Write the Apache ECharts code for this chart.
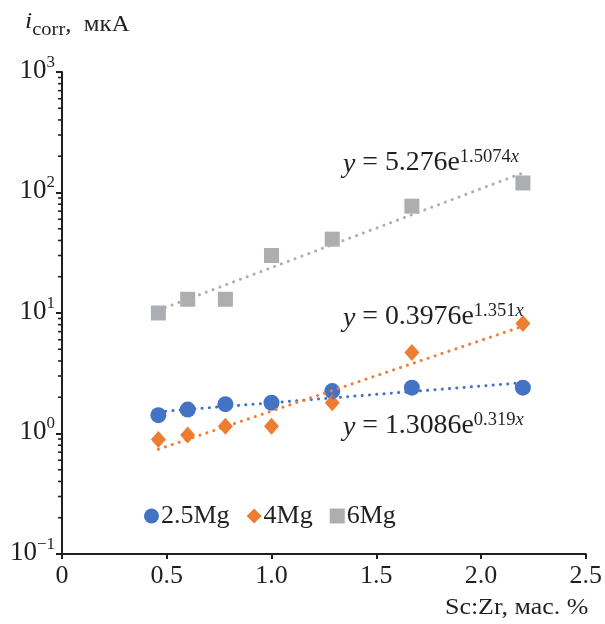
<!DOCTYPE html>
<html>
<head>
<meta charset="utf-8">
<script src="https://cdn.jsdelivr.net/npm/echarts@6/dist/echarts.min.js"></script>
<style>html,body{margin:0;padding:0;background:#fff}#c{width:605px;height:624px}</style>
</head>
<body>
<div id="c"></div>
<script>
// Data
const xValues = [0.46, 0.60, 0.78, 1.00, 1.29, 1.67, 2.20];
const mg25 = [1.42, 1.58, 1.75, 1.80, 2.25, 2.40, 2.40];
const mg4 = [0.89, 0.97, 1.15, 1.15, 1.80, 4.70, 8.20];
const mg6 = [10.0, 13.0, 13.0, 30.0, 41.0, 77.0, 120.0];
// Trendline end points (exponential fits, straight on log axis)
const trendX = [0.46, 2.20];
const trend25 = [1.515, 2.64];
const trend4 = [0.740, 7.77];
const trend6 = [10.55, 145.4];
const seriesNames = ['2.5Mg', '4Mg', '6Mg'];
const xTicks = ['0', '0.5', '1.0', '1.5', '2.0', '2.5'];
const yExponents = ['−1', '0', '1', '2', '3'];
const minorTickValues = [];
[0.1, 1, 10, 100].forEach(d => { for (let m = 2; m <= 9; m++) minorTickValues.push(+(m * d).toPrecision(3)); });

const SERIF = '"Liberation Serif", "DejaVu Serif", serif';
const C_BLUE = '#4472C4', C_ORANGE = '#ED7D31', C_GRAY = '#ADAEB1';
const AX = '#231F20';

function pairs(xs, ys) { return xs.map((x, i) => [x, ys[i]]); }

const chart = echarts.init(document.getElementById('c'), null, {renderer: 'canvas'});

function trend(data, color) {
  return {
    type: 'line', data: data, symbol: 'none', silent: true, z: 5,
    lineStyle: {color: color, width: 3, type: [0.1, 7.2], cap: 'round'}
  };
}

function eq(coef, exp, y) {
  return {
    type: 'text', left: 343, top: y, z: 100, scaleX: 1.03,
    style: {
      text: '{i|y} = ' + coef + 'e{s|' + exp + '}{si|x}',
      font: '27px ' + SERIF, fill: '#231F20',
      rich: {
        i: {fontSize: 27, fontStyle: 'italic', fontFamily: SERIF, lineHeight: 30, verticalAlign: 'bottom'},
        s: {fontSize: 18, fontFamily: SERIF, lineHeight: 30, verticalAlign: 'top'},
        si: {fontSize: 18, fontStyle: 'italic', fontFamily: SERIF, lineHeight: 30, verticalAlign: 'top'}
      }
    }
  };
}

const option = {
  animation: false,
  backgroundColor: '#fff',
  grid: {left: 62, right: 12, top: 72, bottom: 70, containLabel: false},
  legend: {
    left: 144, top: 503, padding: 0, itemWidth: 15, itemHeight: 15, itemGap: 17,
    data: seriesNames,
    textStyle: {fontFamily: SERIF, fontSize: 26, color: '#231F20', padding: [0, 0, 0, -3]}
  },
  xAxis: {
    type: 'value', min: 0, max: 2.5, interval: 0.5,
    axisLine: {show: true, onZero: false, lineStyle: {color: AX, width: 2}},
    axisTick: {show: true, length: 5, lineStyle: {color: AX, width: 2}},
    splitLine: {show: false},
    axisLabel: {
      margin: 9, fontFamily: SERIF, fontSize: 26, color: '#231F20',
      formatter: v => xTicks[Math.round(v / 0.5)]
    }
  },
  yAxis: {
    type: 'log', logBase: 10, min: 0.1, max: 1000,
    axisLine: {show: true, lineStyle: {color: AX, width: 2}},
    axisTick: {show: true, length: 6, lineStyle: {color: AX, width: 2}},
    splitLine: {show: false},
    axisLabel: {
      margin: 7, padding: [0, 0, 6, 0], fontFamily: SERIF, color: '#231F20',
      formatter: v => {
        const e = Math.round(Math.log10(v));
        return '{b|10}{s|' + yExponents[e + 1] + '}';
      },
      rich: {
        b: {fontSize: 27, fontFamily: SERIF, lineHeight: 30, verticalAlign: 'bottom'},
        s: {fontSize: 17, fontFamily: SERIF, lineHeight: 30, verticalAlign: 'top'}
      }
    }
  },
  series: [
    {name: '2.5Mg', type: 'scatter', data: pairs(xValues, mg25), symbol: 'circle', symbolSize: 16, itemStyle: {color: C_BLUE, opacity: 1}, z: 3},
    {name: '4Mg', type: 'scatter', data: pairs(xValues, mg4), symbol: 'diamond', symbolSize: [15, 17], itemStyle: {color: C_ORANGE, opacity: 1}, z: 3},
    {name: '6Mg', type: 'scatter', data: pairs(xValues, mg6), symbol: 'rect', symbolSize: 15, itemStyle: {color: C_GRAY, opacity: 1}, z: 3},
    trend(pairs(trendX, trend25), C_BLUE),
    trend(pairs(trendX, trend4), C_ORANGE),
    trend(pairs(trendX, trend6), C_GRAY),
    {
      type: 'custom', silent: true, z: 10, clip: false,
      data: minorTickValues.map(v => [0, v]),
      renderItem: (params, api) => {
        const p = api.coord([0, api.value(1)]);
        return {type: 'line', shape: {x1: p[0] - 4, y1: p[1], x2: p[0], y2: p[1]}, style: {stroke: AX, lineWidth: 1.6}};
      }
    }
  ],
  graphic: [
    {
      type: 'text', left: 25, top: 10, z: 100, scaleX: 1.08,
      style: {
        text: '{i|i}{sub|corr},  мкА',
        font: '23px ' + SERIF, fill: '#231F20',
        rich: {
          i: {fontSize: 24, fontStyle: 'italic', fontFamily: SERIF, lineHeight: 30, verticalAlign: 'top'},
          sub: {fontSize: 19, fontFamily: SERIF, lineHeight: 30, verticalAlign: 'bottom'}
        }
      }
    },
    {
      type: 'text', left: 445, top: 596, z: 100, scaleX: 1.08,
      style: {text: 'Sc:Zr, мас. %', font: '24px ' + SERIF, fill: '#231F20'}
    },
    eq('5.276', '1.5074', 148),
    eq('0.3976', '1.351', 302),
    eq('1.3086', '0.319', 411)
  ]
};
chart.setOption(option);
</script>
</body>
</html>
